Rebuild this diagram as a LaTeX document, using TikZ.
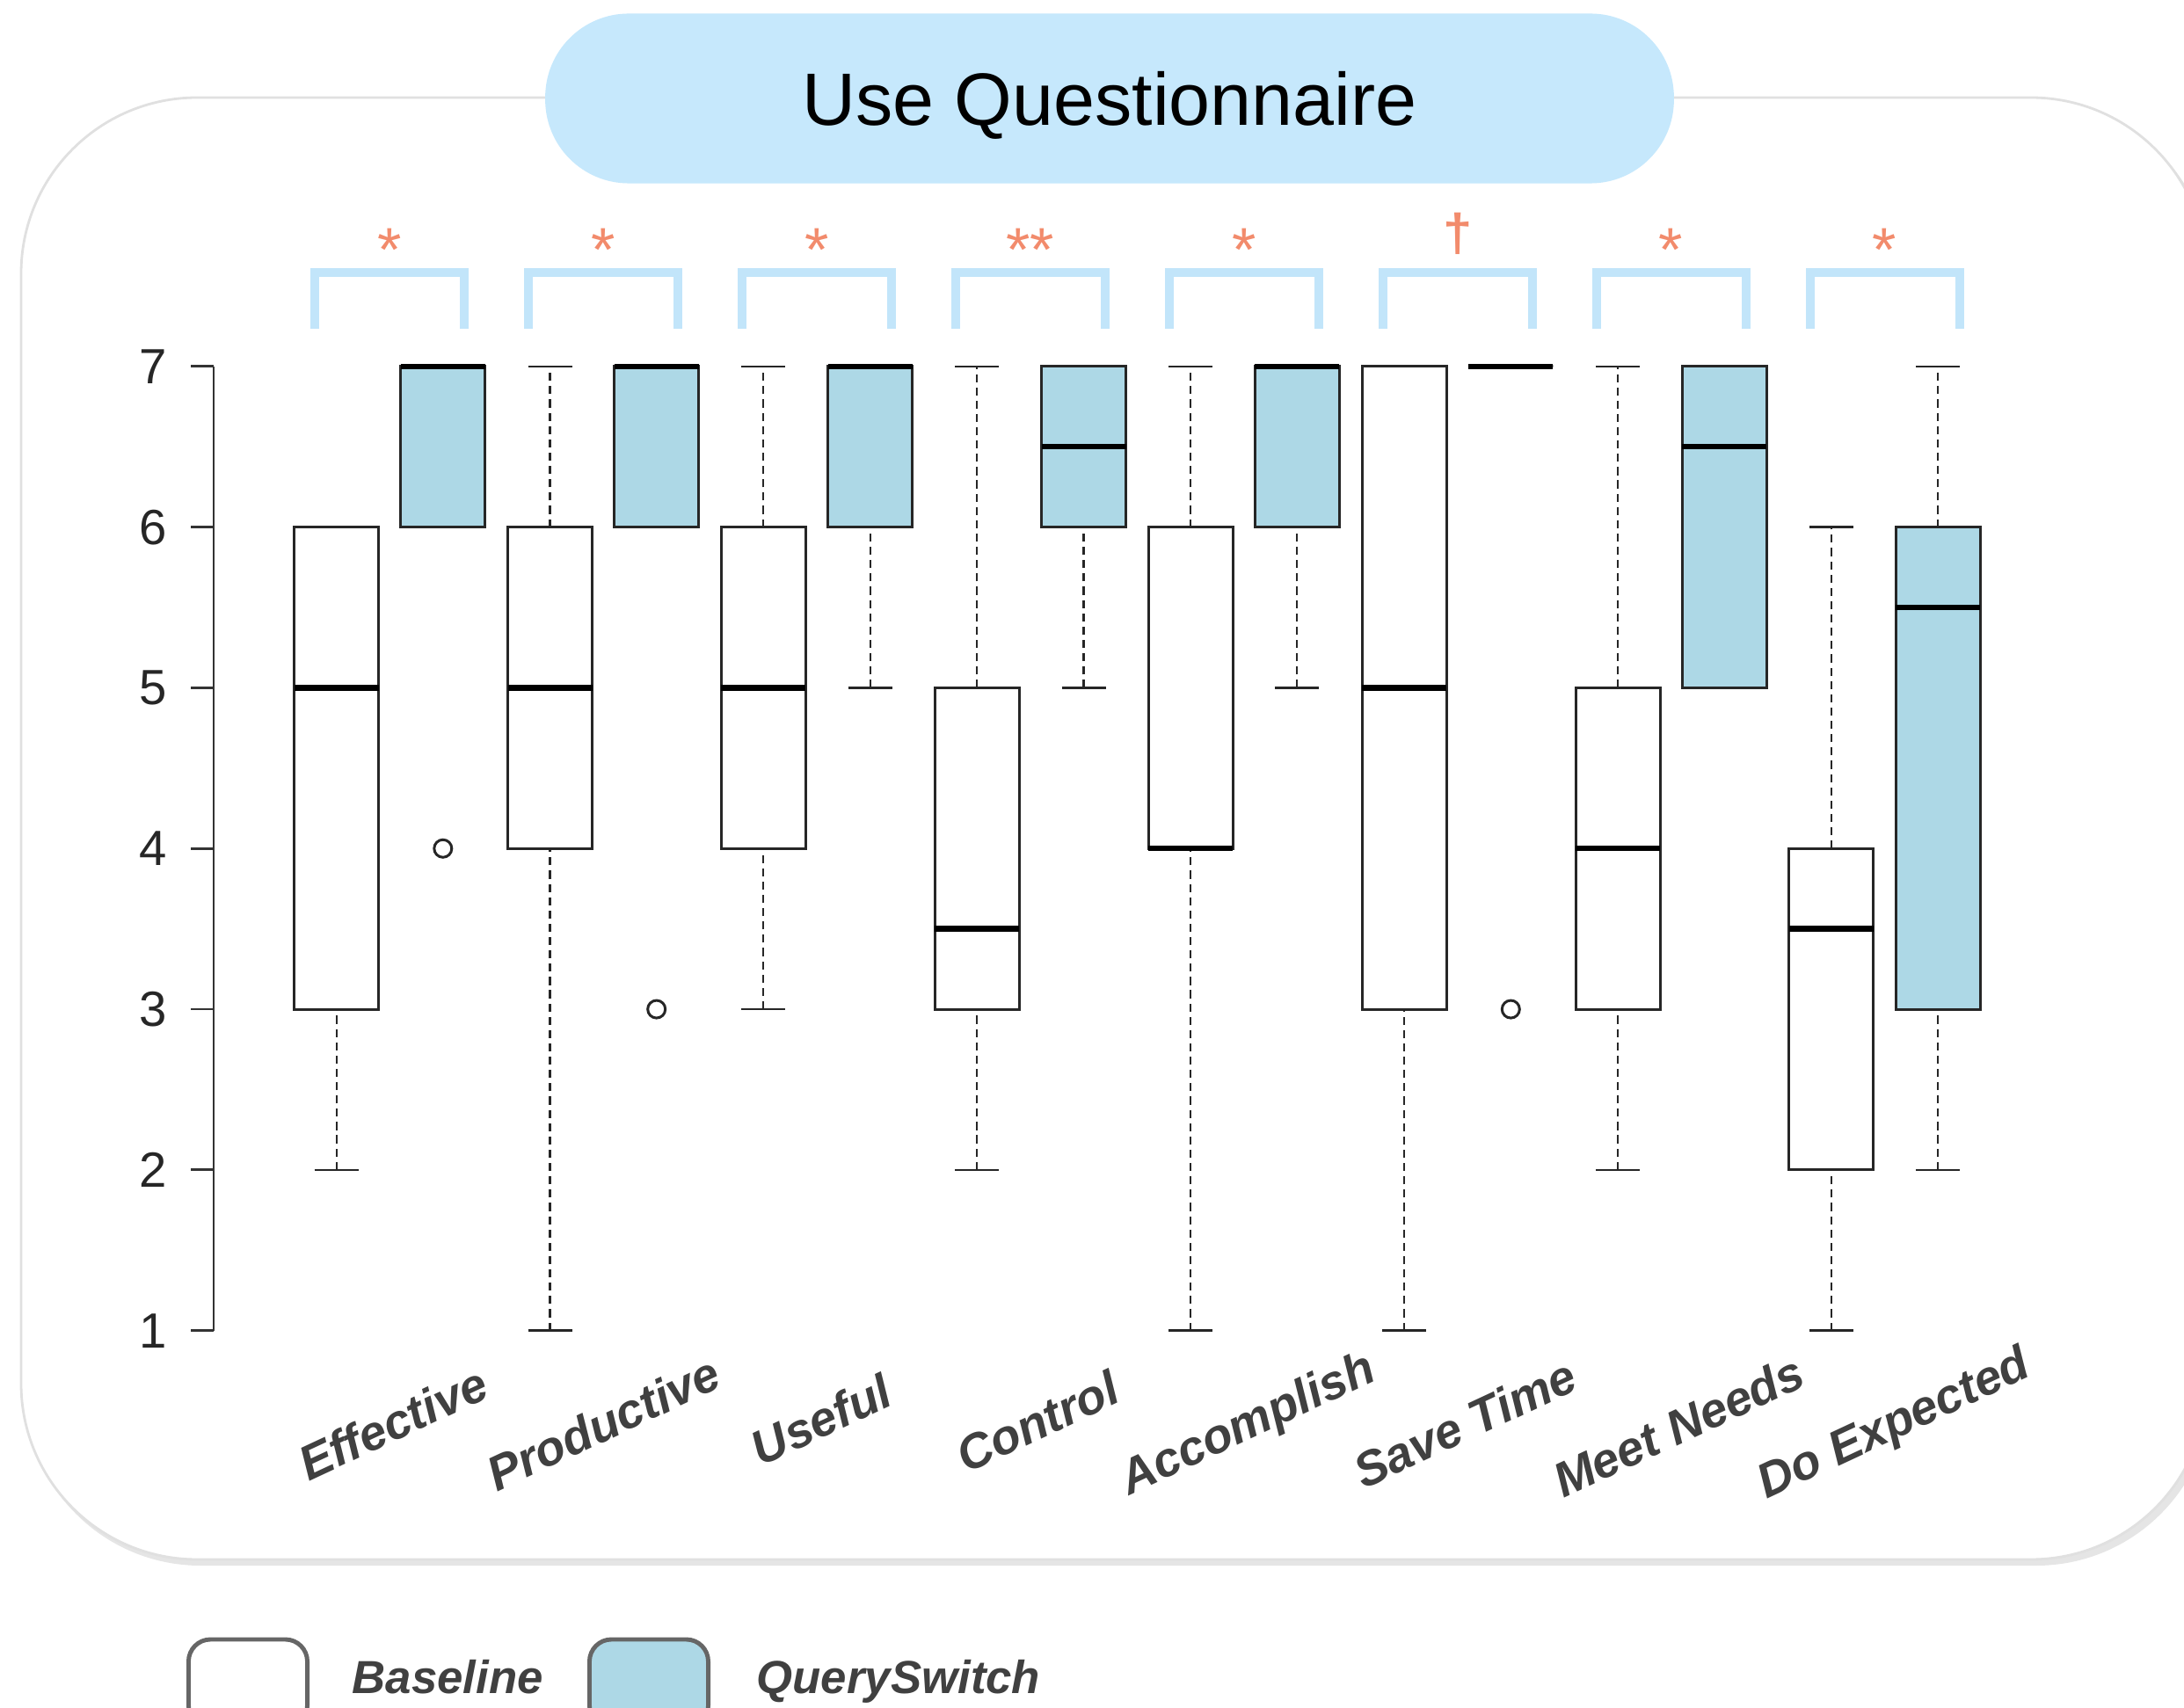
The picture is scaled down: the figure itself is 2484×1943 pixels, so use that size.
\documentclass[tikz,border=0pt]{standalone}
\usepackage{fontspec}
\setmainfont{Liberation Sans}
\definecolor{qsblue}{HTML}{ADD8E6}
\definecolor{pillblue}{HTML}{C6E8FC}
\definecolor{brkblue}{HTML}{C2E5FA}
\definecolor{sigred}{HTML}{F28B6C}
\definecolor{labgray}{HTML}{404040}
% one box: centre, low, q1, median, q3, high, fill
\newcommand{\qbox}[7]{%
  \draw[whisk] (#1,#2) -- (#1,#3);
  \draw[whisk] (#1,#5) -- (#1,#6);
  \draw[staple] (#1-25,#2) -- (#1+25,#2);
  \draw[staple] (#1-25,#6) -- (#1+25,#6);
  \draw[boxline,fill=#7] (#1-48,#3) rectangle (#1+48,#5);
  \draw[median] (#1-48,#4) -- (#1+48,#4);
}
\begin{document}
\begin{tikzpicture}[x=0.01cm, y=-0.01cm,
    panel/.style={fill=white, draw=black!12, line width=0.8pt, rounded corners=2cm},
    pill/.style={fill=pillblue, rounded corners=0.95cm, minimum width=12.83cm, minimum height=1.93cm,
      text height=17.2pt, text depth=0pt, font=\fontsize{24}{28}\selectfont},
    bracket/.style={draw=brkblue, line width=3.1pt},
    sig/.style={text=sigred, font=\fontsize{20}{24}\selectfont, anchor=north, inner sep=0pt},
    whisk/.style={draw=black!85, line width=0.6pt, dash pattern=on 2.6pt off 1.7pt},
    staple/.style={draw=black!85, line width=0.75pt},
    boxline/.style={draw=black!85, line width=0.85pt},
    median/.style={draw=black, line width=1.8pt},
    axis/.style={draw=black!80, line width=0.8pt},
    ticklab/.style={font=\fontsize{16}{18}\selectfont, text=black!85},
    catlab/.style={font=\fontsize{15.7}{18}\selectfont\bfseries\itshape, text=labgray, rotate=25},
    legbox/.style={draw=black!60, line width=1.4pt, rounded corners=0.25cm, minimum width=1.35cm, minimum height=1cm},
    legtext/.style={font=\fontsize{15}{18}\selectfont\bfseries\itshape, text=labgray, anchor=base west, inner sep=0pt}]
  \useasboundingbox (0,0) rectangle (2484,1943);
  \clip (0,0) rectangle (2484,1943);
  % panel and title
  \fill[black!10, rounded corners=2cm] (28,117) rectangle (2516,1781);
  \draw[panel] (24,111) rectangle (2510,1774);
  \node[pill] (title) at (1262,112) {Use Questionnaire};
  % brackets
  \draw[bracket] (358,374) -- (358,310) -- (528,310) -- (528,374);
  \draw[bracket] (601,374) -- (601,310) -- (771,310) -- (771,374);
  \draw[bracket] (844,374) -- (844,310) -- (1014,310) -- (1014,374);
  \draw[bracket] (1087,374) -- (1087,310) -- (1257,310) -- (1257,374);
  \draw[bracket] (1330,374) -- (1330,310) -- (1500,310) -- (1500,374);
  \draw[bracket] (1573,374) -- (1573,310) -- (1743,310) -- (1743,374);
  \draw[bracket] (1816,374) -- (1816,310) -- (1986,310) -- (1986,374);
  \draw[bracket] (2059,374) -- (2059,310) -- (2229,310) -- (2229,374);
  % significance marks
  \node[sig] (sig1) at (443.2,259) {*};
  \node[sig] (sig2) at (686.1,259) {*};
  \node[sig] (sig3) at (929.0,259) {*};
  \node[sig] (sig4) at (1171.9,259) {**};
  \node[sig] (sig5) at (1414.8,259) {*};
  \node[sig, font=\fontsize{17}{20}\selectfont\bfseries] (sig6) at (1657.7,241) {†};
  \node[sig] (sig7) at (1900.6,259) {*};
  \node[sig] (sig8) at (2143.5,259) {*};
  % plot, y in scale points
  \begin{scope}[yshift=-16.955cm, y=1.827cm]
    \draw[axis] (243,1) -- (243,7);
    \draw[axis] (217,1) -- (243,1) (217,2) -- (243,2) (217,3) -- (243,3) (217,4) -- (243,4)
      (217,5) -- (243,5) (217,6) -- (243,6) (217,7) -- (243,7);
    \node[ticklab] (t1) at (174,1) {1};
    \node[ticklab] (t2) at (174,2) {2};
    \node[ticklab] (t3) at (174,3) {3};
    \node[ticklab] (t4) at (174,4) {4};
    \node[ticklab] (t5) at (174,5) {5};
    \node[ticklab] (t6) at (174,6) {6};
    \node[ticklab] (t7) at (174,7) {7};
    % Effective
    \qbox{382.6}{2}{3}{5}{6}{6}{white}
    \qbox{503.8}{6}{6}{7}{7}{7}{qsblue}
    \draw[boxline] (503.8,4) circle[radius=0.1cm];
    % Productive
    \qbox{625.5}{1}{4}{5}{6}{7}{white}
    \qbox{746.7}{6}{6}{7}{7}{7}{qsblue}
    \draw[boxline] (746.7,3) circle[radius=0.1cm];
    % Useful
    \qbox{868.4}{3}{4}{5}{6}{7}{white}
    \qbox{989.6}{5}{6}{7}{7}{7}{qsblue}
    % Control
    \qbox{1111.3}{2}{3}{3.5}{5}{7}{white}
    \qbox{1232.5}{5}{6}{6.5}{7}{7}{qsblue}
    % Accomplish
    \qbox{1354.2}{1}{4}{4}{6}{7}{white}
    \qbox{1475.4}{5}{6}{7}{7}{7}{qsblue}
    % Save Time
    \qbox{1597.1}{1}{3}{5}{7}{7}{white}
    \qbox{1718.3}{7}{7}{7}{7}{7}{qsblue}
    \draw[boxline] (1718.3,3) circle[radius=0.1cm];
    % Meet Needs
    \qbox{1840.0}{2}{3}{4}{5}{7}{white}
    \qbox{1961.2}{5}{5}{6.5}{7}{7}{qsblue}
    % Do Expected
    \qbox{2082.9}{1}{2}{3.5}{4}{6}{white}
    \qbox{2204.1}{2}{3}{5.5}{6}{7}{qsblue}
  \end{scope}
  % item labels
  \node[catlab] (lab1) at (447,1619) {Effective};
  \node[catlab] (lab2) at (686,1619) {Productive};
  \node[catlab] (lab3) at (934,1615) {Useful};
  \node[catlab] (lab4) at (1180,1617) {Control};
  \node[catlab] (lab5) at (1420,1622) {Accomplish};
  \node[catlab] (lab6) at (1666,1619) {Save Time};
  \node[catlab] (lab7) at (1909,1622) {Meet Needs};
  \node[catlab] (lab8) at (2155,1622) {Do Expected};
  % legend
  \node[legbox, fill=white] (legbase) at (282,1915) {};
  \node[legtext] (txtbase) at (400,1926) {Baseline};
  \node[legbox, fill=qsblue] (legqs) at (738,1915) {};
  \node[legtext] (txtqs) at (860,1926) {QuerySwitch};
\end{tikzpicture}
\end{document}
